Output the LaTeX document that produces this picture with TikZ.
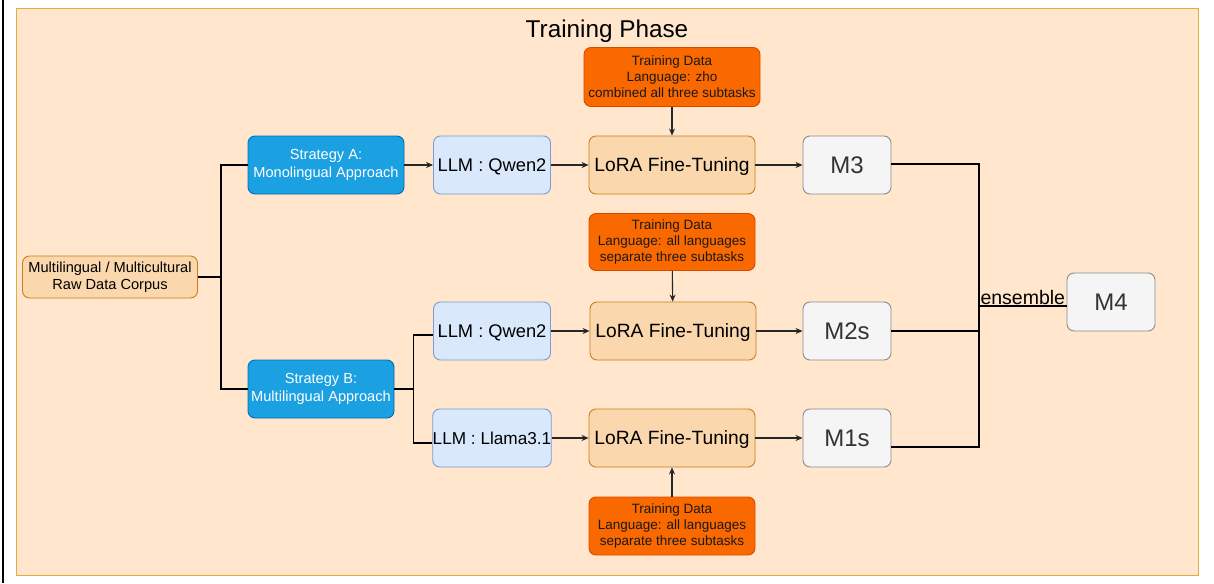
\documentclass[tikz,border=0pt]{standalone}
\usepackage{fontspec}
\setmainfont{Liberation Sans}
\usetikzlibrary{arrows.meta}

\definecolor{phasefill}{HTML}{FFE6CC}
\definecolor{phaseline}{HTML}{E3AE3F}
\definecolor{peachfill}{HTML}{FAD7AC}
\definecolor{peachline}{HTML}{C8801A}
\definecolor{stratfill}{HTML}{1BA1E2}
\definecolor{stratline}{HTML}{006EAF}
\definecolor{llmfill}{HTML}{DAE8FC}
\definecolor{llmline}{HTML}{7C9CCF}
\definecolor{modelfill}{HTML}{F5F5F5}
\definecolor{modelline}{HTML}{8A8A8A}
\definecolor{datafill}{HTML}{FA6800}
\definecolor{dataline}{HTML}{D84A00}

\tikzset{
  box/.style={draw, rounded corners=7pt, line width=0.9pt, align=center, inner sep=0pt},
  corpusbox/.style={box, fill=peachfill, draw=peachline, minimum width=175pt, minimum height=42pt,
    font=\fontsize{14.6}{17}\selectfont},
  stratbox/.style={box, fill=stratfill, draw=stratline, text=white, minimum height=58pt,
    font=\fontsize{14.6}{17.5}\selectfont},
  llmbox/.style={box, fill=llmfill, draw=llmline, minimum width=117pt, minimum height=58pt,
    text height=13.1pt, text depth=0pt, font=\fontsize{18.3}{20}\selectfont},
  lorabox/.style={box, fill=peachfill, draw=peachline, minimum width=166pt, minimum height=58pt,
    text height=13.7pt, text depth=0pt, font=\fontsize{19.2}{22}\selectfont},
  modelbox/.style={box, fill=modelfill, draw=modelline, text=black!80, minimum width=88pt,
    minimum height=58pt, text height=17.2pt, text depth=0pt, font=\fontsize{24}{26}\selectfont},
  databox/.style={box, fill=datafill, draw=dataline, text=black!90, minimum width=166pt,
    minimum height=58pt, font=\fontsize{13.5}{16}\selectfont},
  joinline/.style={line width=1.7pt, black},
  flow/.style={line width=1.1pt, black!85, -{Stealth[length=7pt,width=6pt]}}
}

\begin{document}
\begin{tikzpicture}[x=1pt,y=-1pt]
  \useasboundingbox (0,0) rectangle (1214,583);
  \draw[line width=1.2pt] (3,0) -- (3,583);
  \draw[fill=phasefill, draw=phaseline, line width=1pt] (16,9) rectangle (1198,575);
  \node (title) at (607,31) {\fontsize{24.3}{28}\selectfont Training Phase};

  % sources and strategies
  \node[corpusbox] (corpus) at (110,277) {Multilingual / Multicultural\\Raw Data Corpus};
  \node[stratbox, minimum width=156pt] (stratA) at (326,165) {Strategy A:\\Monolingual Approach};
  \node[stratbox, minimum width=146pt] (stratB) at (321,389) {Strategy B:\\Multilingual Approach};

  % base models
  \node[llmbox] (qwenA) at (492,165) {LLM : Qwen2};
  \node[llmbox] (qwenB) at (492,331) {LLM : Qwen2};
  \node[llmbox, text height=12.3pt, font=\fontsize{17.2}{19}\selectfont] (llama) at (492,438) {LLM : Llama3.1};

  % fine-tuning
  \node[lorabox] (loraA) at (672,165) {LoRA Fine-Tuning};
  \node[lorabox] (loraB) at (673,331) {LoRA Fine-Tuning};
  \node[lorabox] (loraC) at (672,438) {LoRA Fine-Tuning};

  % training data
  \node[databox, minimum width=176pt, minimum height=59pt] (dataA) at (672,77)
    {Training Data\\Language: zho\\combined all three subtasks};
  \node[databox, minimum height=57pt] (dataB) at (672,242)
    {Training Data\\Language: all languages\\separate three subtasks};
  \node[databox, minimum height=58pt] (dataC) at (672,526)
    {Training Data\\Language: all languages\\separate three subtasks};

  % models
  \node[modelbox] (m3) at (847,165) {M3};
  \node[modelbox] (m2) at (847,331) {M2s};
  \node[modelbox] (m1) at (847,438) {M1s};
  \node[modelbox] (m4) at (1111,302) {M4};
  \coordinate (ens) at (979,306);

  \begin{scope}[joinline]
    \draw (corpus.east) -- ++(23,0) |- (stratA.west);
    \draw (corpus.east) -- ++(23,0) |- (stratB.west);
    \draw (stratB.east) -- ++(19,0) |- ([yshift=-4pt]qwenB.west);
    \draw (stratB.east) -- ++(19,0) |- ([yshift=-5pt]llama.west);
    \draw ([yshift=1pt]m3.east) -| (ens);
    \draw (m2.east) -| (ens);
    \draw ([yshift=-9pt]m1.east) -| (ens);
    \draw (ens) -- node[above, inner sep=0.5pt, font=\fontsize{19.5}{21}\selectfont] {ensemble}
      ([yshift=-4pt]m4.west);
  \end{scope}

  \begin{scope}[flow]
    \draw (stratA) -- (qwenA);
    \draw (qwenA) -- (loraA);
    \draw (qwenB) -- (loraB);
    \draw (llama) -- (loraC);
    \draw (loraA) -- (m3);
    \draw (loraB) -- (m2);
    \draw (loraC) -- (m1);
    \draw (dataA) -- (loraA);
    \draw (dataB) -- (loraB);
    \draw (dataC) -- (loraC);
  \end{scope}
\end{tikzpicture}
\end{document}
